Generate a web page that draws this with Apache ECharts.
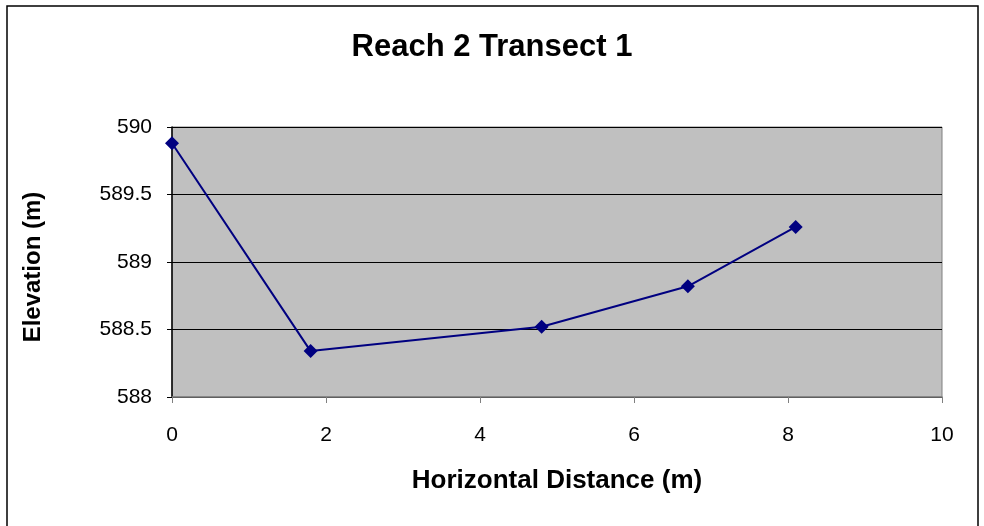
<!DOCTYPE html>
<html>
<head>
<meta charset="utf-8">
<script src="https://cdn.jsdelivr.net/npm/echarts@6/dist/echarts.min.js"></script>
<style>
  html, body { margin: 0; padding: 0; background: #fff; }
  #chart { width: 984px; height: 526px; }
</style>
</head>
<body>
<div id="chart"></div>
<script>
const distance = [0, 1.8, 4.8, 6.7, 8.1]
const elevation = [589.88, 588.34, 588.52, 588.82, 589.26]

const chart = echarts.init(document.getElementById('chart'))
const font = 'Arial, "Liberation Sans", sans-serif'

chart.setOption({
  animation: false,
  backgroundColor: '#fff',
  title: {
    text: 'Reach 2 Transect 1',
    left: 'center',
    top: 27,
    padding: [5, 0, 5, 8],
    textStyle: { fontFamily: font, fontSize: 31, fontWeight: 'bold', color: '#000' }
  },
  graphic: [{
    type: 'rect',
    shape: { x: 7, y: 6, width: 971, height: 540 },
    style: { fill: 'none', stroke: '#000', lineWidth: 1.5 },
    silent: true
  }],
  grid: {
    left: 172,
    right: 42,
    top: 127,
    bottom: 129,
    show: true,
    backgroundColor: '#c0c0c0',
    borderColor: '#808080',
    borderWidth: 1
  },
  xAxis: {
    type: 'value',
    min: 0,
    max: 10,
    interval: 2,
    name: 'Horizontal Distance (m)',
    nameLocation: 'middle',
    nameGap: 71,
    nameTextStyle: { fontFamily: font, fontSize: 26, fontWeight: 'bold', color: '#000' },
    axisLine: { show: true, onZero: false, lineStyle: { color: '#808080', width: 1.5 } },
    axisTick: { show: true, inside: false, length: 6, lineStyle: { color: '#808080' } },
    axisLabel: { margin: 28, fontFamily: font, fontSize: 21, color: '#000' },
    splitLine: { show: false }
  },
  yAxis: {
    type: 'value',
    min: 588,
    max: 590,
    interval: 0.5,
    name: 'Elevation (m)',
    nameLocation: 'middle',
    nameGap: 127,
    nameTextStyle: { fontFamily: font, fontSize: 24, fontWeight: 'bold', color: '#000', padding: [0, 10, 0, 0] },
    axisLine: { show: true, lineStyle: { color: '#000', width: 1.5 } },
    axisTick: { show: true, length: 5, lineStyle: { color: '#000' } },
    axisLabel: { margin: 20, fontFamily: font, fontSize: 21, color: '#000' },
    splitLine: { show: true, lineStyle: { color: '#000', width: 1 } }
  },
  series: [{
    type: 'line',
    data: distance.map((d, i) => [d, elevation[i]]),
    symbol: 'diamond',
    symbolSize: 14,
    lineStyle: { color: '#000080', width: 2 },
    itemStyle: { color: '#000080' }
  }]
})
</script>
</body>
</html>
